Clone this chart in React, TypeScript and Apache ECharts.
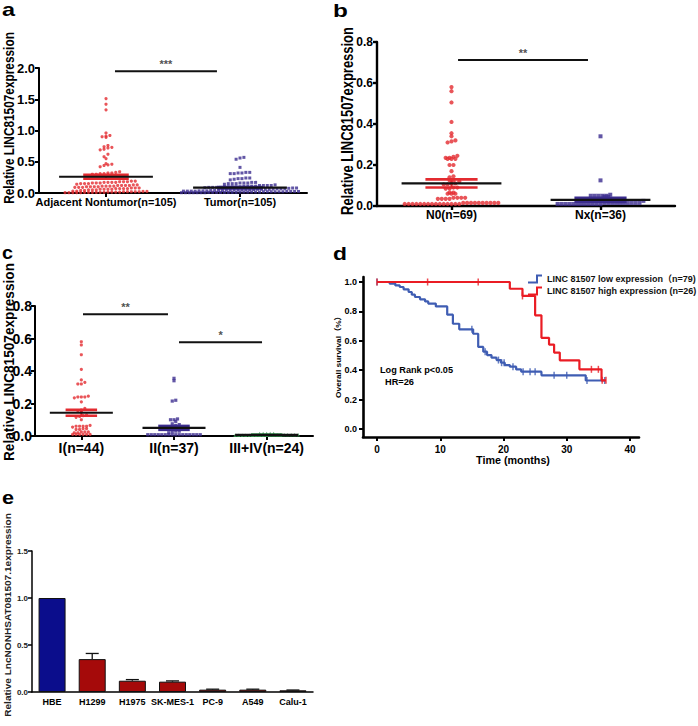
import React, { useEffect, useRef } from 'react';
import * as echarts from 'echarts';

const FONT = "'Liberation Sans', Arial, 'Noto Sans CJK SC', sans-serif";

// ---------- Panel a ----------
const catA = ['Adjacent Nontumor(n=105)', 'Tumor(n=105)'];
const adjacent = [
  1.51, 1.42, 1.33, 0.96, 0.92, 0.91, 0.90, 0.89, 0.76, 0.74, 0.73, 0.72, 0.70, 0.69, 0.62, 0.58, 0.55,
  0.47, 0.46, 0.45, 0.44, 0.42,
  0.34, 0.33, 0.32, 0.32, 0.31, 0.31, 0.30, 0.30, 0.29, 0.28,
  0.19, 0.19, 0.18, 0.18, 0.18, 0.17, 0.17, 0.17, 0.17, 0.16, 0.16, 0.16, 0.15, 0.15, 0.15, 0.14,
  0.13, 0.13, 0.12, 0.12, 0.12, 0.12, 0.11, 0.11, 0.11, 0.11, 0.10, 0.10, 0.10, 0.10, 0.09, 0.09, 0.09,
  0.08, 0.08, 0.08, 0.07, 0.07, 0.07, 0.07, 0.06, 0.06, 0.06, 0.06, 0.05, 0.05, 0.05, 0.04, 0.04, 0.03, 0.03,
  0.025, 0.025, 0.02, 0.02, 0.02, 0.02, 0.02, 0.015, 0.015, 0.015, 0.015, 0.01, 0.01, 0.01, 0.01, 0.01, 0.01,
  0.005, 0.005, 0.005, 0.005, 0.005,
];
const tumor = [
  0.57, 0.56, 0.54, 0.41,
  0.33, 0.33, 0.32, 0.32, 0.31, 0.31,
  0.24, 0.24, 0.23, 0.23, 0.22, 0.21,
  0.17, 0.17, 0.16, 0.16, 0.16, 0.15, 0.15, 0.15, 0.14,
  0.13, 0.12, 0.12, 0.12, 0.12, 0.11, 0.11, 0.11, 0.11, 0.10, 0.10, 0.10, 0.10, 0.10, 0.09, 0.09, 0.09, 0.09, 0.085,
  0.08, 0.08, 0.075, 0.07, 0.07, 0.07, 0.065, 0.06, 0.06, 0.06, 0.06, 0.055, 0.05, 0.05, 0.05, 0.05, 0.05,
  0.045, 0.045, 0.04, 0.04, 0.04, 0.04, 0.035, 0.035, 0.035, 0.03, 0.03, 0.03, 0.03,
  0.025, 0.025, 0.025, 0.025, 0.02, 0.02, 0.02, 0.02, 0.02, 0.02, 0.015, 0.015, 0.015, 0.015, 0.015, 0.015,
  0.01, 0.01, 0.01, 0.01, 0.01, 0.01, 0.01, 0.01, 0.005, 0.005, 0.005, 0.005, 0.005, 0.005, 0.005,
];
const meansA = [0.26, 0.085];
const semsA = [0.03, 0.012];
const sigA = [{ x1: 0.067, x2: 0.828, y: 1.95, label: '***' }];

// ---------- Panel b ----------
const catB = ['N0(n=69)', 'Nx(n=36)'];
const n0 = [
  0.58, 0.56, 0.505, 0.41,
  0.355, 0.34, 0.32, 0.315, 0.31,
  0.245, 0.235, 0.235, 0.23, 0.23, 0.23, 0.24,
  0.20, 0.20, 0.17, 0.145, 0.14,
  0.125, 0.12, 0.125, 0.11, 0.105, 0.11, 0.105,
  0.09, 0.085, 0.085, 0.09, 0.065, 0.06, 0.06, 0.065, 0.06,
  0.04, 0.04, 0.04, 0.04, 0.035, 0.035, 0.035, 0.035,
  0.015, 0.015, 0.015, 0.015, 0.015, 0.015, 0.015, 0.015, 0.015, 0.015,
  0.01, 0.01, 0.01, 0.01, 0.01, 0.01, 0.01, 0.01, 0.01, 0.01, 0.01, 0.01, 0.01, 0.01, 0.01,
];
const nx = [
  0.34, 0.125, 0.055, 0.05, 0.05, 0.05, 0.045, 0.05, 0.045, 0.05,
  0.03, 0.03, 0.025, 0.03,
  0.015, 0.015, 0.015, 0.015, 0.015, 0.015, 0.015, 0.015, 0.015, 0.015,
  0.01, 0.01, 0.01, 0.01, 0.01, 0.01, 0.01, 0.01, 0.01, 0.01, 0.01, 0.01,
];
const meansB = [0.11, 0.03];
const semsB = [0.02, 0.01];
const sigB = [{ x1: 0.044, x2: 0.916, y: 0.712, label: '**' }];

// ---------- Panel c ----------
const catC = ['I(n=44)', 'II(n=37)', 'III+IV(n=24)'];
const stageI = [
  0.58, 0.56, 0.50, 0.41, 0.345, 0.33, 0.32, 0.32, 0.245, 0.24, 0.24, 0.235, 0.24, 0.21,
  0.17, 0.16, 0.155, 0.15, 0.13, 0.125, 0.12, 0.115, 0.10,
  0.065, 0.06, 0.06, 0.06, 0.055, 0.06, 0.045, 0.04, 0.045, 0.04,
  0.025, 0.025, 0.02, 0.025, 0.02, 0.01, 0.01, 0.01, 0.01, 0.01, 0.01,
];
const stageII = [
  0.355, 0.34, 0.22, 0.215, 0.105, 0.10, 0.10, 0.09, 0.075, 0.07, 0.065,
  0.055, 0.05, 0.05, 0.045, 0.05, 0.055, 0.03, 0.025, 0.03, 0.02,
  0.008, 0.008, 0.008, 0.008, 0.008, 0.008, 0.008, 0.008, 0.008, 0.008, 0.008, 0.008, 0.008, 0.008, 0.008, 0.008,
];
const stageIII = [
  0.015, 0.015, 0.015, 0.015, 0.015,
  0.008, 0.008, 0.008, 0.008, 0.008, 0.008, 0.008, 0.008, 0.008,
  0.005, 0.005, 0.005, 0.005, 0.005, 0.005, 0.005, 0.005, 0.005, 0.005,
];
const meansC = [0.143, 0.05, 0.007];
const semsC = [0.018, 0.012, 0.002];
const sigC = [
  { x1: 0.018, x2: 0.935, y: 0.75, label: '**' },
  { x1: 1.054, x2: 1.95, y: 0.577, label: '*' },
];

// ---------- Panel d ----------
const lowName = 'LINC 81507 low expression（n=79)';
const highName = 'LINC 81507 high expression (n=26)';
const kmLow = [
  [0, 1], [2, 0.989], [2.9, 0.977], [3.6, 0.966], [4.2, 0.95], [5, 0.932], [5.5, 0.914], [6, 0.898],
  [6.8, 0.882], [7.6, 0.868], [8.1, 0.853], [9.3, 0.834], [11.1, 0.778], [12, 0.716], [13, 0.678],
  [15.2, 0.648], [16, 0.558], [16.8, 0.526], [17.4, 0.503], [18.1, 0.485], [18.9, 0.469], [19.6, 0.451],
  [20.2, 0.435], [21, 0.424], [22, 0.405], [22.8, 0.39], [26, 0.365], [33, 0.33], [36, 0.33],
];
const kmLowCensor = [
  [0, 1], [15, 0.678], [17.1, 0.526], [19.2, 0.469], [19.7, 0.451], [20.1, 0.451], [21.5, 0.424],
  [23.1, 0.39], [24.2, 0.39], [25, 0.39], [28, 0.365], [30, 0.365], [33.2, 0.33], [36, 0.33],
];
const kmHigh = [
  [0, 1], [21, 0.954], [23, 0.905], [25, 0.773], [26, 0.62], [27.2, 0.574], [28, 0.52], [28.9, 0.467],
  [32, 0.406], [35.5, 0.331], [36.2, 0.331],
];
const kmHighCensor = [
  [0, 1], [8, 1], [16, 1], [23, 0.905], [33.9, 0.406], [35, 0.406], [35.6, 0.331], [36.2, 0.331],
];
const kmXTicks = [0, 40, 10];
const kmYTicks = [0, 1, 0.2];

// ---------- Panel e ----------
const cellLines = ['HBE', 'H1299', 'H1975', 'SK-MES-1', 'PC-9', 'A549', 'Calu-1'];
const cellExpr = [1.0, 0.35, 0.12, 0.11, 0.025, 0.025, 0.018];
const cellErr = [0, 0.06, 0.012, 0.008, 0.005, 0.005, 0.003];

// ---------- colors ----------
const RED = '#e32b30';
const PURPLE = '#3b2c8e';
const GREEN = '#3c9a55';
const BLUE_KM = '#3f5db3';
const RED_KM = '#ea1c24';
const NAVY = '#0b0d8c';
const DARKRED = '#a50a0a';

function swarm(values: number[], cat: number, rowStep: number, dx: number) {
  const rows = new Map<number, number[]>();
  values.forEach((v) => {
    const r = Math.round(v / rowStep);
    if (!rows.has(r)) rows.set(r, []);
    rows.get(r)!.push(v);
  });
  const out: number[][] = [];
  rows.forEach((list) => {
    list.sort((a, b) => a - b);
    const n = list.length;
    list.forEach((v, k) => out.push([cat + (k - (n - 1) / 2) * dx, v]));
  });
  return out;
}

let measureCtx: CanvasRenderingContext2D | null = null;
function measure(text: string, font: string) {
  if (!measureCtx) measureCtx = document.createElement('canvas').getContext('2d');
  measureCtx!.font = font;
  return measureCtx!.measureText(text).width;
}

function vText(text: string, cx: number, cy: number, len: number, fs: number, scaleY: number, color = '#000') {
  const font = `bold ${fs}px ${FONT}`;
  const w = measure(text, font);
  return {
    type: 'text', x: cx, y: cy, rotation: Math.PI / 2, scaleX: len / w, scaleY, z: 20,
    style: { text, font, fill: color, textAlign: 'center', textVerticalAlign: 'middle', align: 'center', verticalAlign: 'middle' },
  };
}
function hText(text: string, x: number, y: number, fs: number, len: number, align = 'left', color = '#000') {
  const font = `bold ${fs}px ${FONT}`;
  const w = measure(text, font);
  return {
    type: 'text', x, y, scaleX: len / w, z: 20,
    style: { text, font, fill: color, textAlign: align, textVerticalAlign: 'middle', align, verticalAlign: 'middle' },
  };
}
function letter(text: string, cx: number, cy: number, scaleX: number) {
  const font = `bold 18px ${FONT}`;
  return {
    type: 'text', x: cx, y: cy, scaleX, z: 20,
    style: { text, font, fill: '#000', textAlign: 'center', textVerticalAlign: 'middle', align: 'center', verticalAlign: 'middle' },
  };
}

function catAxis(gridIndex: number, data: string[], fs: number, margin: number, lw: number, ticks = true) {
  return {
    type: 'category', gridIndex, data, boundaryGap: true,
    axisLine: { show: true, onZero: false, lineStyle: { color: '#000', width: lw } },
    axisTick: { show: ticks, alignWithLabel: true, length: 4, lineStyle: { color: '#000', width: lw } },
    axisLabel: { interval: 0, fontFamily: FONT, fontWeight: 'bold', fontSize: fs, color: '#000', margin },
    splitLine: { show: false },
  };
}
function hiddenX(gridIndex: number, n: number) {
  return { type: 'value', gridIndex, min: -0.5, max: n - 0.5, show: false, axisLine: { onZero: false } };
}
function valY(gridIndex: number, max: number, interval: number, fs: number, margin: number, lw: number, color = '#000') {
  return {
    type: 'value', gridIndex, min: 0, max, interval,
    axisLine: { show: true, onZero: false, lineStyle: { color: '#000', width: lw } },
    axisTick: { show: true, length: 4, lineStyle: { color: '#000', width: lw } },
    axisLabel: { formatter: (v: number) => v.toFixed(1), fontFamily: FONT, fontWeight: 'bold', fontSize: fs, color, margin },
    splitLine: { show: false },
  };
}

function meanSem(xi: number, yi: number, means: number[], sems: number[], colors: string[], hw: number, chw: number) {
  return {
    type: 'custom', xAxisIndex: xi, yAxisIndex: yi, z: 6, silent: true,
    data: means.map((m, i) => [i, m, sems[i]]),
    renderItem: (params: any, api: any) => {
      const i = api.value(0), m = api.value(1), s = api.value(2);
      const L = api.coord([i - hw, m]), R = api.coord([i + hw, m]);
      const T = api.coord([i, m + s]), B = api.coord([i, m - s]);
      const cl = api.coord([i - chw, m])[0], cr = api.coord([i + chw, m])[0];
      const c = colors[params.dataIndex];
      return {
        type: 'group',
        children: [
          { type: 'line', shape: { x1: T[0], y1: T[1], x2: B[0], y2: B[1] }, style: { stroke: c, lineWidth: 2 } },
          { type: 'line', shape: { x1: cl, y1: T[1], x2: cr, y2: T[1] }, style: { stroke: c, lineWidth: 2.6 } },
          { type: 'line', shape: { x1: cl, y1: B[1], x2: cr, y2: B[1] }, style: { stroke: c, lineWidth: 2.6 } },
          { type: 'line', shape: { x1: L[0], y1: L[1], x2: R[0], y2: R[1] }, style: { stroke: '#111', lineWidth: 2.2 } },
        ],
      };
    },
  };
}

function sigSeries(xi: number, yi: number, sigs: { x1: number; x2: number; y: number; label: string }[]) {
  const out: any[] = [];
  sigs.forEach((s) => {
    out.push({
      type: 'line', xAxisIndex: xi, yAxisIndex: yi, symbol: 'none', silent: true,
      data: [[s.x1, s.y], [s.x2, s.y]], lineStyle: { color: '#111', width: 2 },
    });
    out.push({
      type: 'scatter', xAxisIndex: xi, yAxisIndex: yi, symbolSize: 1, silent: true,
      itemStyle: { color: 'rgba(0,0,0,0)' },
      data: [[(s.x1 + s.x2) / 2, s.y]],
      label: { show: true, position: 'top', distance: 1, formatter: s.label, fontFamily: FONT, fontWeight: 'bold', fontSize: 11, color: '#222' },
    });
  });
  return out;
}

function dots(xi: number, yi: number, data: number[][], symbol: string, size: number, color: string) {
  return { type: 'scatter', xAxisIndex: xi, yAxisIndex: yi, symbol, symbolSize: size, itemStyle: { color }, data, silent: true, z: 3 };
}

const STEP_ICON = 'path://M0,7L8,7L8,0L14,0L14,2L10,2L10,9L0,9Z';

function buildOption() {
  // pixel geometry -> swarm spacing in data units
  const rowA = 3.4 / 62.5, dxA = 3.9 / 134;
  const rowB = 3.8 / 205, dxB = 3.9 / 149;
  const rowC = 3.3 / 163.5, dxC = 3.5 / 92.7;

  const series: any[] = [
    dots(1, 0, swarm(adjacent, 0, rowA, dxA), 'circle', 3.2, RED),
    dots(1, 0, swarm(tumor, 1, rowA, dxA), 'rect', 3, PURPLE),
    meanSem(1, 0, meansA, semsA, [RED, PURPLE], 0.35, 0.17),
    ...sigSeries(1, 0, sigA),

    dots(3, 1, swarm(n0, 0, rowB, dxB), 'circle', 4.2, RED),
    dots(3, 1, swarm(nx, 1, rowB, dxB), 'rect', 4, PURPLE),
    meanSem(3, 1, meansB, semsB, [RED, PURPLE], 0.335, 0.175),
    ...sigSeries(3, 1, sigB),

    dots(5, 2, swarm(stageI, 0, rowC, dxC), 'circle', 3.2, RED),
    dots(5, 2, swarm(stageII, 1, rowC, dxC), 'rect', 3.2, PURPLE),
    dots(5, 2, swarm(stageIII, 2, rowC, dxC), 'triangle', 3.6, GREEN),
    meanSem(5, 2, meansC, semsC, [RED, PURPLE, GREEN], 0.34, 0.17),
    ...sigSeries(5, 2, sigC),

    {
      name: lowName, type: 'line', xAxisIndex: 7, yAxisIndex: 4, step: 'end', symbol: 'none',
      data: kmLow, lineStyle: { color: BLUE_KM, width: 2.2 }, itemStyle: { color: BLUE_KM }, z: 4,
    },
    {
      name: highName, type: 'line', xAxisIndex: 7, yAxisIndex: 4, step: 'end', symbol: 'none',
      data: kmHigh, lineStyle: { color: RED_KM, width: 2.2 }, itemStyle: { color: RED_KM }, z: 5,
    },
    { type: 'scatter', xAxisIndex: 7, yAxisIndex: 4, symbol: 'rect', symbolSize: [1.5, 7], data: kmLowCensor, itemStyle: { color: BLUE_KM }, z: 4 },
    { type: 'scatter', xAxisIndex: 7, yAxisIndex: 4, symbol: 'rect', symbolSize: [1.5, 7], data: kmHighCensor, itemStyle: { color: RED_KM }, z: 5 },

    {
      type: 'bar', xAxisIndex: 8, yAxisIndex: 5, barWidth: 27,
      data: cellExpr.map((v, i) => ({ value: v, itemStyle: { color: i === 0 ? NAVY : DARKRED } })),
      itemStyle: { borderColor: '#111', borderWidth: 1 },
    },
    {
      type: 'custom', xAxisIndex: 8, yAxisIndex: 5, z: 6, silent: true,
      data: cellExpr.map((v, i) => [i, v, cellErr[i]]),
      renderItem: (params: any, api: any) => {
        const i = api.value(0), v = api.value(1), e = api.value(2);
        if (!e) return { type: 'group', children: [] };
        const p0 = api.coord([i, v]);
        const p1 = api.coord([i, v + e]);
        return {
          type: 'group',
          children: [
            { type: 'line', shape: { x1: p0[0], y1: p0[1], x2: p1[0], y2: p1[1] }, style: { stroke: '#111', lineWidth: 1.3 } },
            { type: 'line', shape: { x1: p1[0] - 6.5, y1: p1[1], x2: p1[0] + 6.5, y2: p1[1] }, style: { stroke: '#111', lineWidth: 1.3 } },
          ],
        };
      },
    },
  ];

  const frameAxis = (gridIndex: number) => ({
    type: 'value', gridIndex, min: 0, max: 1,
    axisLine: { show: true, onZero: false, lineStyle: { color: '#000', width: 2.6 } },
    axisTick: { show: false }, axisLabel: { show: false }, splitLine: { show: false },
  });

  return {
    animation: false,
    backgroundColor: '#ffffff',
    grid: [
      { left: 39, top: 68, width: 268, height: 125 },
      { left: 377, top: 42, width: 298, height: 164 },
      { left: 35, top: 306, width: 278, height: 130 },
      { left: 363, top: 277, width: 276, height: 160 },
      { left: 377, top: 282, width: 253, height: 147 },
      { left: 32, top: 551, width: 281, height: 141 },
    ],
    xAxis: [
      catAxis(0, catA, 11, 3, 2),
      hiddenX(0, 2),
      catAxis(1, catB, 12, 3, 2.4),
      hiddenX(1, 2),
      catAxis(2, catC, 14, 5, 2),
      hiddenX(2, 3),
      frameAxis(3),
      {
        type: 'value', gridIndex: 4, min: kmXTicks[0], max: kmXTicks[1], interval: kmXTicks[2], offset: 8,
        axisLine: { show: false, onZero: false }, axisTick: { show: true, length: 4, lineStyle: { color: '#000', width: 2 } },
        axisLabel: { fontFamily: FONT, fontWeight: 'bold', fontSize: 10, color: '#000', margin: 7 },
        splitLine: { show: false },
      },
      catAxis(5, cellLines, 9, 5, 1.5, false),
    ],
    yAxis: [
      valY(0, 2, 0.5, 13, 4, 2),
      valY(1, 0.8, 0.2, 12, 4, 2.4),
      valY(2, 0.8, 0.2, 14, 3, 2),
      frameAxis(3),
      {
        type: 'value', gridIndex: 4, min: kmYTicks[0], max: kmYTicks[1], interval: kmYTicks[2], offset: 14,
        axisLine: { show: false, onZero: false }, axisTick: { show: true, length: 4, lineStyle: { color: '#000', width: 2 } },
        axisLabel: { formatter: (v: number) => v.toFixed(1), fontFamily: FONT, fontWeight: 'bold', fontSize: 9, color: '#000', margin: 6 },
        splitLine: { show: false },
      },
      valY(5, 1.5, 0.5, 8, 4, 1.5, '#222'),
    ],
    legend: {
      data: [{ name: lowName, icon: STEP_ICON }, { name: highName, icon: STEP_ICON }],
      orient: 'vertical', left: 528, top: 274, itemWidth: 14, itemHeight: 9, itemGap: 2, padding: 0,
      selectedMode: false,
      textStyle: { fontFamily: FONT, fontWeight: 'bold', fontSize: 9, color: '#111', lineHeight: 10 },
    },
    graphic: [
      letter('a', 8.5, 9.8, 1.3),
      letter('b', 340.5, 10.8, 1.35),
      letter('c', 7.5, 253.3, 1.1),
      letter('d', 340, 253, 1.27),
      letter('e', 8, 497.8, 1.2),
      vText('Relative LINC81507expression', 9, 118, 172, 12, 1.25),
      vText('Relative LINC81507expression', 348, 121, 188, 13, 1.2),
      vText('Relative LINC81507expression', 9, 362, 198, 14, 1.1),
      vText('Overall survival（%）', 338.5, 355, 86, 8, 0.95),
      vText('Relative LncNONHSAT081507.1expression', 7.5, 615, 204, 10, 0.95, '#222'),
      hText('Time (months)', 513, 460, 11.5, 74, 'center'),
      hText('Log Rank p<0.05', 380, 370, 9.5, 73, 'left'),
      hText('HR=26', 385, 382, 9.5, 29, 'left'),
    ],
    series,
  };
}

export default function App() {
  const ref = useRef<HTMLDivElement>(null);
  useEffect(() => {
    document.body.style.margin = '0';
    const chart = echarts.init(ref.current!, null, { renderer: 'svg' });
    chart.setOption(buildOption() as any);
    return () => chart.dispose();
  }, []);
  return <div ref={ref} style={{ position: 'absolute', left: 0, top: 0, width: 698, height: 726 }} />;
}
